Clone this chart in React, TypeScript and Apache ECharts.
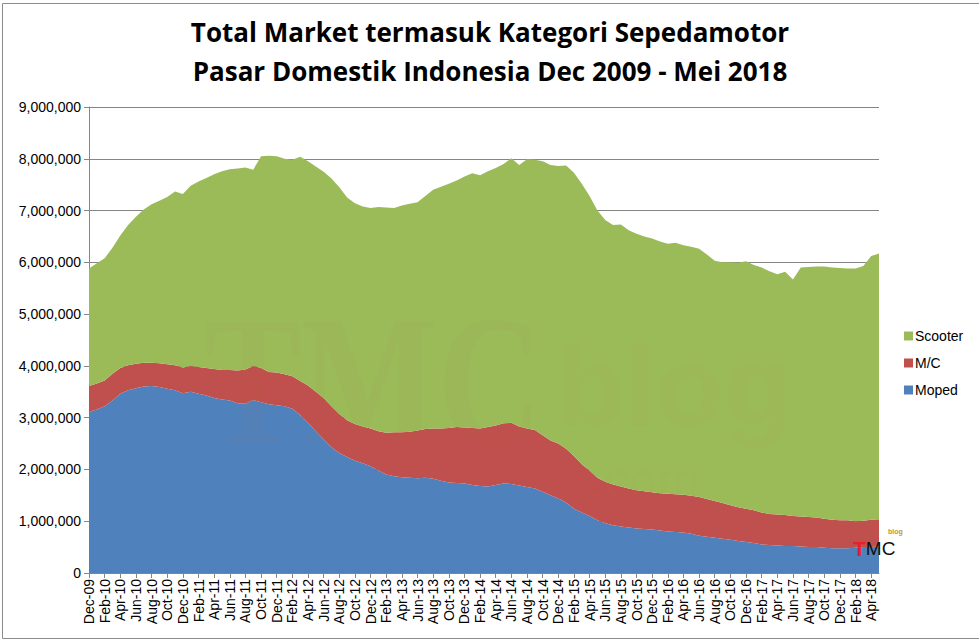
import React, { useEffect, useRef } from "react";
import * as echarts from "echarts";

// Values in thousands of units, Dec-2009 .. May-2018 (monthly)
const moped = [
  3110, 3160, 3220, 3330, 3460, 3530, 3570, 3600, 3610, 3590, 3560, 3530, 3470, 3500, 3460, 3430, 3380, 3350, 3330, 3280,
  3270, 3340, 3300, 3260, 3240, 3220, 3170, 3050, 2900, 2740, 2580, 2430, 2320, 2240, 2170, 2120, 2060, 1980, 1900, 1870,
  1850, 1840, 1830, 1840, 1820, 1780, 1750, 1740, 1730, 1700, 1680, 1670, 1700, 1730, 1720, 1690, 1660, 1630, 1570, 1500,
  1440, 1360, 1240, 1170, 1100, 1020, 960, 920, 900, 880, 860, 850, 840, 820, 800, 790, 780, 760, 720, 700,
  680, 660, 640, 620, 600, 580, 550, 540, 530, 520, 520, 510, 500, 500, 490, 480, 480, 480, 490, 500,
  500, 510,
];
const mc = [
  500, 500, 500, 520, 500, 480, 470, 460, 450, 460, 470, 480, 500, 500, 520, 530, 560, 570, 590, 630,
  660, 660, 660, 620, 630, 620, 630, 660, 720, 760, 800, 790, 750, 710, 710, 710, 730, 760, 810, 850,
  870, 890, 920, 940, 970, 1010, 1050, 1080, 1080, 1100, 1110, 1150, 1150, 1160, 1180, 1140, 1130, 1130, 1090, 1060,
  1060, 1040, 1020, 930, 880, 820, 800, 790, 770, 750, 740, 730, 720, 720, 730, 730, 730, 730, 750, 730,
  710, 690, 670, 650, 640, 630, 620, 600, 600, 600, 580, 580, 580, 570, 560, 550, 540, 540, 510, 510,
  530, 530,
];
const scooter = [
  2270, 2320, 2360, 2430, 2560, 2710, 2840, 2960, 3060, 3140, 3230, 3360, 3350, 3480, 3580, 3670, 3760, 3840, 3880, 3900,
  3900, 3790, 4090, 4180, 4180, 4160, 4180, 4330, 4330, 4350, 4370, 4400, 4380, 4300, 4260, 4250, 4260, 4330, 4350, 4330,
  4380, 4400, 4410, 4500, 4610, 4670, 4720, 4760, 4850, 4920, 4890, 4940, 4970, 5010, 5110, 5050, 5200, 5220, 5290, 5320,
  5360, 5470, 5470, 5420, 5300, 5160, 5060, 5010, 5060, 4990, 4950, 4920, 4900, 4860, 4830, 4860, 4820, 4810, 4790, 4720,
  4640, 4650, 4690, 4720, 4780, 4740, 4730, 4690, 4640, 4700, 4570, 4810, 4830, 4850, 4870, 4870, 4870, 4860, 4880, 4920,
  5090, 5130,
];

const MONTHS = ["Jan", "Feb", "Mar", "Apr", "May", "Jun", "Jul", "Aug", "Sep", "Oct", "Nov", "Dec"];
const categories: string[] = moped.map((_, k) => {
  const m = (11 + k) % 12;
  const y = 9 + Math.floor((11 + k) / 12);
  return `${MONTHS[m]}-${String(y).padStart(2, "0")}`;
});

const TITLE_1 = "Total Market termasuk Kategori Sepedamotor";
const TITLE_2 = "Pasar Domestik Indonesia Dec 2009 - Mei 2018";

const BLUE = "#4F81BD";
const RED = "#C0504D";
const GREEN = "#9BBB59";
const FONT = "'Liberation Sans', Arial, sans-serif";
const TITLE_FONT = "bold 26px 'Liberation Sans Narrow', 'Open Sans', sans-serif";

export default function App() {
  const ref = useRef<HTMLDivElement>(null);
  useEffect(() => {
    document.body.style.margin = "0";
    if (!ref.current) return;
    const chart = echarts.init(ref.current, undefined, { renderer: "svg" });
    const mkSeries = (name: string, data: number[], color: string) => ({
      name,
      type: "line",
      stack: "total",
      data,
      showSymbol: false,
      symbol: "none",
      lineStyle: { width: 0, color },
      itemStyle: { color },
      areaStyle: { color, opacity: 1 },
    });
    chart.setOption({
      animation: false,
      backgroundColor: "#fff",
      textStyle: { fontFamily: FONT },
      grid: { left: 89, right: 100, top: 107, bottom: 67, containLabel: false },
      legend: {
        orient: "vertical",
        left: 899,
        top: 324,
        itemWidth: 9,
        itemHeight: 9,
        itemGap: 13,
        icon: "rect",
        data: ["Scooter", "M/C", "Moped"],
        textStyle: { fontSize: 14, color: "#000", fontFamily: FONT, padding: [0, 0, 0, -3] },
      },
      xAxis: {
        type: "category",
        boundaryGap: false,
        data: categories,
        axisLine: { show: true, lineStyle: { color: "#868686", width: 1 } },
        axisTick: { show: true, interval: 1, length: 5, lineStyle: { color: "#868686" } },
        axisLabel: { rotate: 90, interval: 1, fontSize: 14, color: "#000", margin: 6, fontFamily: FONT },
        splitLine: { show: false },
      },
      yAxis: {
        type: "value",
        min: 0,
        max: 9000,
        interval: 1000,
        axisLine: { show: true, lineStyle: { color: "#868686", width: 1 } },
        axisTick: { show: true, length: 5, lineStyle: { color: "#868686" } },
        axisLabel: {
          fontSize: 14,
          color: "#000",
          margin: 8,
          fontFamily: FONT,
          formatter: (v: number) => (v * 1000).toLocaleString("en-US"),
        },
        splitLine: { show: true, lineStyle: { color: "#868686", width: 1 } },
      },
      series: [mkSeries("Moped", moped, BLUE), mkSeries("M/C", mc, RED), mkSeries("Scooter", scooter, GREEN)],
      graphic: [
        {
          type: "rect",
          left: 0,
          top: 1,
          shape: { x: 0, y: 0, width: 977, height: 635 },
          style: { fill: "none", stroke: "#8c8c8c", lineWidth: 1 },
          silent: true,
        },
        {
          type: "text",
          x: 490,
          y: 32,
          style: { text: TITLE_1, font: TITLE_FONT, fill: "#000", align: "center", verticalAlign: "middle" },
        },
        {
          type: "text",
          x: 490,
          y: 71,
          style: { text: TITLE_2, font: TITLE_FONT, fill: "#000", align: "center", verticalAlign: "middle" },
        },
        // faint watermark
        {
          type: "text",
          x: 205,
          y: 472,
          scaleX: 0.78,
          z: 50,
          silent: true,
          style: {
            text: "TMC",
            font: "bold 185px 'Liberation Serif', serif",
            fill: "rgba(170,110,50,0.05)",
            verticalAlign: "bottom",
          },
        },
        {
          type: "text",
          x: 556,
          y: 322,
          z: 50,
          silent: true,
          style: {
            text: "{a|blog}\n{b|.com}",
            fill: "rgba(170,140,60,0.05)",
            rich: {
              a: { font: "bold 112px 'Liberation Sans', sans-serif", lineHeight: 128, fill: "rgba(170,140,60,0.05)" },
              b: {
                font: "56px 'Liberation Serif', serif",
                lineHeight: 56,
                padding: [0, 0, 0, 34],
                fill: "rgba(170,140,60,0.05)",
              },
            },
          },
        },
        // small logo
        {
          type: "text",
          x: 853,
          y: 548,
          z: 100,
          style: {
            text: "{t|T}{m|MC}",
            verticalAlign: "middle",
            rich: {
              t: { font: "bold 21px 'Liberation Sans', sans-serif", fill: "#e8202a" },
              m: { font: "19px 'Liberation Sans', sans-serif", fill: "#111" },
            },
          },
        },
        {
          type: "text",
          x: 888,
          y: 531,
          z: 100,
          style: { text: "blog", font: "bold 7px 'Liberation Sans', sans-serif", fill: "#c8962a", verticalAlign: "middle" },
        },
      ],
    });
    return () => chart.dispose();
  }, []);
  return <div ref={ref} style={{ width: 979, height: 640 }} />;
}
